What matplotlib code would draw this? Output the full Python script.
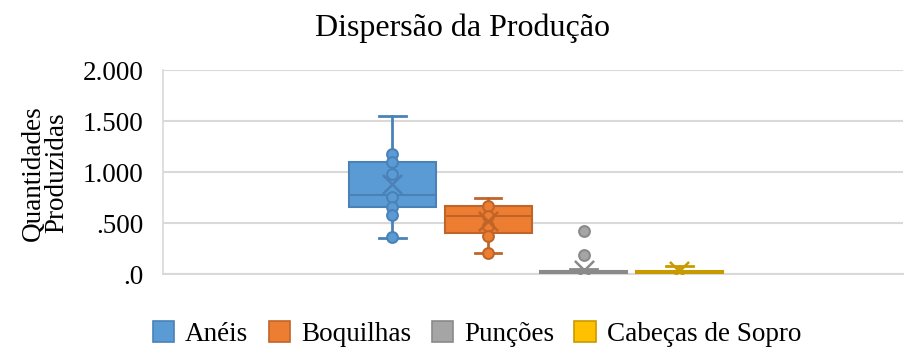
import matplotlib.pyplot as plt
from matplotlib.patches import Patch

plt.rcParams['font.family'] = ['Liberation Serif', 'DejaVu Serif']

# box statistics per product
labels = ['Anéis', 'Boquilhas', 'Punções', 'Cabeças de Sopro']
q1 = [660, 405, 0, 0]
med = [770, 565, 12, 10]
q3 = [1095, 668, 28, 32]
whislo = [350, 207, 0, 0]
whishi = [1545, 745, 45, 78]
means = [885, 520, 40, 30]
# visible data points
points = [
    [1175, 1100, 985, 760, 660, 575, 360],
    [665, 565, 470, 375, 210],
    [425, 190],
    [],
]
face = ['#5B9BD5', '#ED7D31', '#A5A5A5', '#FFC000']
edge = ['#4A82B8', '#C0652A', '#8A8A8A', '#C99A00']

yticks = [0, 500, 1000, 1500, 2000]
yticklabels = ['.0', '.500', '1.000', '1.500', '2.000']

fig = plt.figure(figsize=(9.05, 3.5), dpi=100)
ax = fig.add_axes([0.180, 0.217, 0.818, 0.583])

for i in range(len(labels)):
    st = [dict(q1=q1[i], med=med[i], q3=q3[i], whislo=whislo[i],
               whishi=whishi[i], mean=means[i], fliers=[], label=labels[i])]
    pos = i + 1
    ax.bxp(st, positions=[pos], widths=0.91, patch_artist=True,
           showmeans=False, showfliers=False,
           boxprops=dict(facecolor=face[i], edgecolor=edge[i], linewidth=1.5),
           medianprops=dict(color=edge[i], linewidth=1.5),
           whiskerprops=dict(color=edge[i], linewidth=2),
           capprops=dict(color=edge[i], linewidth=2),
           capwidths=0.28, zorder=3)
    if points[i]:
        ax.scatter([pos] * len(points[i]), points[i], s=60, facecolor=face[i],
                   edgecolor=edge[i], linewidth=1.5, zorder=4)
    ax.scatter([pos], [means[i]], marker='x', s=190, color=edge[i],
               linewidth=1.8, zorder=5)

ax.set_xlim(-1.4, 6.34)
ax.set_ylim(0, 2000)
ax.set_yticks(yticks)
ax.set_yticklabels(yticklabels, fontsize=19.5)
ax.set_xticks([])
ax.tick_params(axis='y', length=0, pad=14)
ax.grid(axis='y', color='#D9D9D9', linewidth=1.5, zorder=0)
ax.set_axisbelow(True)
for s in ['top', 'right']:
    ax.spines[s].set_visible(False)
ax.spines['left'].set_color('#D9D9D9')
ax.spines['bottom'].set_color('#D9D9D9')
ax.spines['left'].set_linewidth(1.2)
ax.spines['bottom'].set_linewidth(1.5)

fig.text(0.050, 0.506, 'Quantidades\nProduzidas', rotation=90, ha='center',
         va='center', fontsize=19.5, linespacing=0.95)
fig.text(0.511, 0.92, 'Dispersão da Produção', ha='center', va='center',
         fontsize=23)

handles = [Patch(facecolor=face[i], edgecolor=edge[i], linewidth=1.2)
           for i in range(len(labels))]
fig.legend(handles, labels, loc='center', bbox_to_anchor=(0.527, 0.045),
           ncol=4, frameon=False, fontsize=19.5, handlelength=0.8,
           handleheight=0.8, handletextpad=0.4, columnspacing=0.75)

fig.savefig('out.png', dpi=100)
